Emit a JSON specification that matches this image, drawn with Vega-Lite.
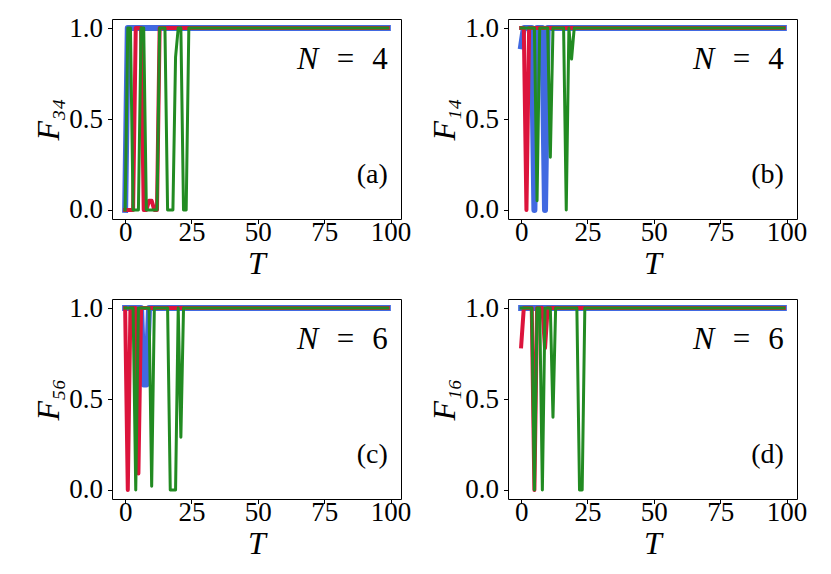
{
  "$schema": "https://vega.github.io/schema/vega-lite/v6.json",
  "background": "white",
  "padding": {"left": 32, "top": 13, "right": 5, "bottom": 5},
  "datasets": {
    "d": [
      {"p":"a","s":"blue","T":0,"F":0},{"p":"a","s":"blue","T":1,"F":1},{"p":"a","s":"blue","T":99,"F":1},
      {"p":"a","s":"red","T":0,"F":0},{"p":"a","s":"red","T":3,"F":0},{"p":"a","s":"red","T":4,"F":1},{"p":"a","s":"red","T":6,"F":1},{"p":"a","s":"red","T":7,"F":0},{"p":"a","s":"red","T":8,"F":0},{"p":"a","s":"red","T":9,"F":0.05},{"p":"a","s":"red","T":10,"F":0.05},{"p":"a","s":"red","T":11,"F":0},{"p":"a","s":"red","T":12,"F":0},{"p":"a","s":"red","T":13,"F":1},{"p":"a","s":"red","T":99,"F":1},
      {"p":"a","s":"green","T":0,"F":0},{"p":"a","s":"green","T":1,"F":1},{"p":"a","s":"green","T":2,"F":1},{"p":"a","s":"green","T":3,"F":0},{"p":"a","s":"green","T":5,"F":0},{"p":"a","s":"green","T":6,"F":1},{"p":"a","s":"green","T":7,"F":1},{"p":"a","s":"green","T":8,"F":0},{"p":"a","s":"green","T":12,"F":0},{"p":"a","s":"green","T":13,"F":1},{"p":"a","s":"green","T":15,"F":1},{"p":"a","s":"green","T":16,"F":0},{"p":"a","s":"green","T":18,"F":0},{"p":"a","s":"green","T":19,"F":0.84},{"p":"a","s":"green","T":20,"F":1},{"p":"a","s":"green","T":21,"F":1},{"p":"a","s":"green","T":22,"F":0},{"p":"a","s":"green","T":23,"F":0},{"p":"a","s":"green","T":24,"F":1},{"p":"a","s":"green","T":99,"F":1},
      {"p":"b","s":"blue","T":0,"F":0.9},{"p":"b","s":"blue","T":1,"F":1},{"p":"b","s":"blue","T":4,"F":1},{"p":"b","s":"blue","T":5,"F":0},{"p":"b","s":"blue","T":6,"F":1},{"p":"b","s":"blue","T":8,"F":1},{"p":"b","s":"blue","T":9,"F":0},{"p":"b","s":"blue","T":10,"F":1},{"p":"b","s":"blue","T":99,"F":1},
      {"p":"b","s":"red","T":0,"F":1},{"p":"b","s":"red","T":1,"F":1},{"p":"b","s":"red","T":2,"F":0},{"p":"b","s":"red","T":3,"F":1},{"p":"b","s":"red","T":99,"F":1},
      {"p":"b","s":"green","T":0,"F":1},{"p":"b","s":"green","T":5,"F":1},{"p":"b","s":"green","T":6,"F":0.05},{"p":"b","s":"green","T":7,"F":1},{"p":"b","s":"green","T":10,"F":1},{"p":"b","s":"green","T":11,"F":0.29},{"p":"b","s":"green","T":12,"F":1},{"p":"b","s":"green","T":16,"F":1},{"p":"b","s":"green","T":17,"F":0},{"p":"b","s":"green","T":18,"F":1},{"p":"b","s":"green","T":19,"F":0.83},{"p":"b","s":"green","T":20,"F":1},{"p":"b","s":"green","T":99,"F":1},
      {"p":"c","s":"blue","T":0,"F":1},{"p":"c","s":"blue","T":6,"F":1},{"p":"c","s":"blue","T":7,"F":0.58},{"p":"c","s":"blue","T":8,"F":0.58},{"p":"c","s":"blue","T":9,"F":1},{"p":"c","s":"blue","T":99,"F":1},
      {"p":"c","s":"red","T":0,"F":1},{"p":"c","s":"red","T":1,"F":0},{"p":"c","s":"red","T":2,"F":1},{"p":"c","s":"red","T":4,"F":1},{"p":"c","s":"red","T":5,"F":0.09},{"p":"c","s":"red","T":6,"F":1},{"p":"c","s":"red","T":99,"F":1},
      {"p":"c","s":"green","T":0,"F":1},{"p":"c","s":"green","T":3,"F":1},{"p":"c","s":"green","T":4,"F":0},{"p":"c","s":"green","T":5,"F":1},{"p":"c","s":"green","T":9,"F":1},{"p":"c","s":"green","T":10,"F":0.02},{"p":"c","s":"green","T":11,"F":1},{"p":"c","s":"green","T":16,"F":1},{"p":"c","s":"green","T":17,"F":0},{"p":"c","s":"green","T":19,"F":0},{"p":"c","s":"green","T":20,"F":1},{"p":"c","s":"green","T":21,"F":0.29},{"p":"c","s":"green","T":22,"F":1},{"p":"c","s":"green","T":99,"F":1},
      {"p":"d","s":"blue","T":0,"F":1},{"p":"d","s":"blue","T":99,"F":1},
      {"p":"d","s":"red","T":0,"F":0.79},{"p":"d","s":"red","T":1,"F":1},{"p":"d","s":"red","T":4,"F":1},{"p":"d","s":"red","T":5,"F":0},{"p":"d","s":"red","T":6,"F":1},{"p":"d","s":"red","T":8,"F":1},{"p":"d","s":"red","T":9,"F":0.78},{"p":"d","s":"red","T":10,"F":1},{"p":"d","s":"red","T":99,"F":1},
      {"p":"d","s":"green","T":0,"F":1},{"p":"d","s":"green","T":4,"F":1},{"p":"d","s":"green","T":5,"F":0},{"p":"d","s":"green","T":6,"F":1},{"p":"d","s":"green","T":7,"F":1},{"p":"d","s":"green","T":8,"F":0},{"p":"d","s":"green","T":9,"F":1},{"p":"d","s":"green","T":11,"F":1},{"p":"d","s":"green","T":12,"F":0.4},{"p":"d","s":"green","T":13,"F":1},{"p":"d","s":"green","T":21,"F":1},{"p":"d","s":"green","T":22,"F":0},{"p":"d","s":"green","T":23,"F":0},{"p":"d","s":"green","T":24,"F":1},{"p":"d","s":"green","T":99,"F":1}
    ],
    "one": [{"k": 1}]
  },
  "columns": 2,
  "spacing": {"row": 80, "column": 107},
  "bounds": "flush",
  "concat": [
    {
      "width": 289, "height": 200,
      "layer": [
        {"data": {"name": "d"}, "transform": [{"filter": "datum.p == 'a' && datum.s == 'blue'"}], "mark": {"type": "line", "color": "#4169E1", "strokeWidth": 6, "strokeCap": "square", "strokeJoin": "round"},
         "encoding": {
          "x": {"field": "T", "type": "quantitative", "scale": {"domain": [-4.95, 103.95], "nice": false, "zero": false}, "axis": {"values": [0, 25, 50, 75, 100], "title": "T"}},
          "y": {"field": "F", "type": "quantitative", "scale": {"domain": [-0.05, 1.05], "nice": false, "zero": false}, "axis": {"values": [0, 0.5, 1], "format": ".1f", "title": "F₃₄"}}}},
        {"data": {"name": "d"}, "transform": [{"filter": "datum.p == 'a' && datum.s == 'red'"}], "mark": {"type": "line", "color": "#DC143C", "strokeWidth": 4, "strokeCap": "square", "strokeJoin": "round"}, "encoding": {"x": {"field": "T", "type": "quantitative"}, "y": {"field": "F", "type": "quantitative"}}},
        {"data": {"name": "d"}, "transform": [{"filter": "datum.p == 'a' && datum.s == 'green'"}], "mark": {"type": "line", "color": "#228B22", "strokeWidth": 3, "strokeCap": "square", "strokeJoin": "round"}, "encoding": {"x": {"field": "T", "type": "quantitative"}, "y": {"field": "F", "type": "quantitative"}}},
        {"data": {"name": "one"}, "mark": {"type": "text", "align": "center", "baseline": "alphabetic", "fontSize": 32, "fontStyle": "italic", "color": "black", "font": "Liberation Serif"}, "encoding": {"text": {"value": "N"}, "x": {"datum": 68.8}, "y": {"datum": 0.777}}},
        {"data": {"name": "one"}, "mark": {"type": "text", "align": "center", "baseline": "alphabetic", "fontSize": 31, "color": "black", "font": "Liberation Serif"}, "encoding": {"text": {"value": "="}, "x": {"datum": 83}, "y": {"datum": 0.777}}},
        {"data": {"name": "one"}, "mark": {"type": "text", "align": "right", "baseline": "alphabetic", "fontSize": 31, "color": "black", "font": "Liberation Serif"}, "encoding": {"text": {"value": "4"}, "x": {"datum": 99}, "y": {"datum": 0.777}}},
        {"data": {"name": "one"}, "mark": {"type": "text", "align": "right", "baseline": "alphabetic", "fontSize": 28, "color": "black", "font": "Liberation Serif"}, "encoding": {"text": {"value": "(a)"}, "x": {"datum": 99}, "y": {"datum": 0.148}}}
      ]
    },
    {
      "width": 289, "height": 200,
      "layer": [
        {"data": {"name": "d"}, "transform": [{"filter": "datum.p == 'b' && datum.s == 'blue'"}], "mark": {"type": "line", "color": "#4169E1", "strokeWidth": 6, "strokeCap": "square", "strokeJoin": "round"},
         "encoding": {
          "x": {"field": "T", "type": "quantitative", "scale": {"domain": [-4.95, 103.95], "nice": false, "zero": false}, "axis": {"values": [0, 25, 50, 75, 100], "title": "T"}},
          "y": {"field": "F", "type": "quantitative", "scale": {"domain": [-0.05, 1.05], "nice": false, "zero": false}, "axis": {"values": [0, 0.5, 1], "format": ".1f", "title": "F₁₄"}}}},
        {"data": {"name": "d"}, "transform": [{"filter": "datum.p == 'b' && datum.s == 'red'"}], "mark": {"type": "line", "color": "#DC143C", "strokeWidth": 4, "strokeCap": "square", "strokeJoin": "round"}, "encoding": {"x": {"field": "T", "type": "quantitative"}, "y": {"field": "F", "type": "quantitative"}}},
        {"data": {"name": "d"}, "transform": [{"filter": "datum.p == 'b' && datum.s == 'green'"}], "mark": {"type": "line", "color": "#228B22", "strokeWidth": 3, "strokeCap": "square", "strokeJoin": "round"}, "encoding": {"x": {"field": "T", "type": "quantitative"}, "y": {"field": "F", "type": "quantitative"}}},
        {"data": {"name": "one"}, "mark": {"type": "text", "align": "center", "baseline": "alphabetic", "fontSize": 32, "fontStyle": "italic", "color": "black", "font": "Liberation Serif"}, "encoding": {"text": {"value": "N"}, "x": {"datum": 68.8}, "y": {"datum": 0.777}}},
        {"data": {"name": "one"}, "mark": {"type": "text", "align": "center", "baseline": "alphabetic", "fontSize": 31, "color": "black", "font": "Liberation Serif"}, "encoding": {"text": {"value": "="}, "x": {"datum": 83}, "y": {"datum": 0.777}}},
        {"data": {"name": "one"}, "mark": {"type": "text", "align": "right", "baseline": "alphabetic", "fontSize": 31, "color": "black", "font": "Liberation Serif"}, "encoding": {"text": {"value": "4"}, "x": {"datum": 99}, "y": {"datum": 0.777}}},
        {"data": {"name": "one"}, "mark": {"type": "text", "align": "right", "baseline": "alphabetic", "fontSize": 28, "color": "black", "font": "Liberation Serif"}, "encoding": {"text": {"value": "(b)"}, "x": {"datum": 99}, "y": {"datum": 0.148}}}
      ]
    },
    {
      "width": 289, "height": 200,
      "layer": [
        {"data": {"name": "d"}, "transform": [{"filter": "datum.p == 'c' && datum.s == 'blue'"}], "mark": {"type": "line", "color": "#4169E1", "strokeWidth": 6, "strokeCap": "square", "strokeJoin": "round"},
         "encoding": {
          "x": {"field": "T", "type": "quantitative", "scale": {"domain": [-4.95, 103.95], "nice": false, "zero": false}, "axis": {"values": [0, 25, 50, 75, 100], "title": "T"}},
          "y": {"field": "F", "type": "quantitative", "scale": {"domain": [-0.05, 1.05], "nice": false, "zero": false}, "axis": {"values": [0, 0.5, 1], "format": ".1f", "title": "F₅₆"}}}},
        {"data": {"name": "d"}, "transform": [{"filter": "datum.p == 'c' && datum.s == 'red'"}], "mark": {"type": "line", "color": "#DC143C", "strokeWidth": 4, "strokeCap": "square", "strokeJoin": "round"}, "encoding": {"x": {"field": "T", "type": "quantitative"}, "y": {"field": "F", "type": "quantitative"}}},
        {"data": {"name": "d"}, "transform": [{"filter": "datum.p == 'c' && datum.s == 'green'"}], "mark": {"type": "line", "color": "#228B22", "strokeWidth": 3, "strokeCap": "square", "strokeJoin": "round"}, "encoding": {"x": {"field": "T", "type": "quantitative"}, "y": {"field": "F", "type": "quantitative"}}},
        {"data": {"name": "one"}, "mark": {"type": "text", "align": "center", "baseline": "alphabetic", "fontSize": 32, "fontStyle": "italic", "color": "black", "font": "Liberation Serif"}, "encoding": {"text": {"value": "N"}, "x": {"datum": 68.8}, "y": {"datum": 0.777}}},
        {"data": {"name": "one"}, "mark": {"type": "text", "align": "center", "baseline": "alphabetic", "fontSize": 31, "color": "black", "font": "Liberation Serif"}, "encoding": {"text": {"value": "="}, "x": {"datum": 83}, "y": {"datum": 0.777}}},
        {"data": {"name": "one"}, "mark": {"type": "text", "align": "right", "baseline": "alphabetic", "fontSize": 31, "color": "black", "font": "Liberation Serif"}, "encoding": {"text": {"value": "6"}, "x": {"datum": 99}, "y": {"datum": 0.777}}},
        {"data": {"name": "one"}, "mark": {"type": "text", "align": "right", "baseline": "alphabetic", "fontSize": 28, "color": "black", "font": "Liberation Serif"}, "encoding": {"text": {"value": "(c)"}, "x": {"datum": 99}, "y": {"datum": 0.148}}}
      ]
    },
    {
      "width": 289, "height": 200,
      "layer": [
        {"data": {"name": "d"}, "transform": [{"filter": "datum.p == 'd' && datum.s == 'blue'"}], "mark": {"type": "line", "color": "#4169E1", "strokeWidth": 6, "strokeCap": "square", "strokeJoin": "round"},
         "encoding": {
          "x": {"field": "T", "type": "quantitative", "scale": {"domain": [-4.95, 103.95], "nice": false, "zero": false}, "axis": {"values": [0, 25, 50, 75, 100], "title": "T"}},
          "y": {"field": "F", "type": "quantitative", "scale": {"domain": [-0.05, 1.05], "nice": false, "zero": false}, "axis": {"values": [0, 0.5, 1], "format": ".1f", "title": "F₁₆"}}}},
        {"data": {"name": "d"}, "transform": [{"filter": "datum.p == 'd' && datum.s == 'red'"}], "mark": {"type": "line", "color": "#DC143C", "strokeWidth": 4, "strokeCap": "square", "strokeJoin": "round"}, "encoding": {"x": {"field": "T", "type": "quantitative"}, "y": {"field": "F", "type": "quantitative"}}},
        {"data": {"name": "d"}, "transform": [{"filter": "datum.p == 'd' && datum.s == 'green'"}], "mark": {"type": "line", "color": "#228B22", "strokeWidth": 3, "strokeCap": "square", "strokeJoin": "round"}, "encoding": {"x": {"field": "T", "type": "quantitative"}, "y": {"field": "F", "type": "quantitative"}}},
        {"data": {"name": "one"}, "mark": {"type": "text", "align": "center", "baseline": "alphabetic", "fontSize": 32, "fontStyle": "italic", "color": "black", "font": "Liberation Serif"}, "encoding": {"text": {"value": "N"}, "x": {"datum": 68.8}, "y": {"datum": 0.777}}},
        {"data": {"name": "one"}, "mark": {"type": "text", "align": "center", "baseline": "alphabetic", "fontSize": 31, "color": "black", "font": "Liberation Serif"}, "encoding": {"text": {"value": "="}, "x": {"datum": 83}, "y": {"datum": 0.777}}},
        {"data": {"name": "one"}, "mark": {"type": "text", "align": "right", "baseline": "alphabetic", "fontSize": 31, "color": "black", "font": "Liberation Serif"}, "encoding": {"text": {"value": "6"}, "x": {"datum": 99}, "y": {"datum": 0.777}}},
        {"data": {"name": "one"}, "mark": {"type": "text", "align": "right", "baseline": "alphabetic", "fontSize": 28, "color": "black", "font": "Liberation Serif"}, "encoding": {"text": {"value": "(d)"}, "x": {"datum": 99}, "y": {"datum": 0.148}}}
      ]
    }
  ],
  "config": {
    "view": {"stroke": "black", "strokeWidth": 1},
    "axis": {"domain": false, "grid": false, "tickColor": "black", "tickSize": 4.5, "tickWidth": 1, "labelFont": "Liberation Serif", "labelFontSize": 27, "labelColor": "black", "labelFlush": false, "labelOverlap": false, "titleFont": "Liberation Serif", "titleFontSize": 32, "titleFontStyle": "italic", "titleFontWeight": "normal", "titleColor": "black", "titlePadding": 3},
    "axisX": {"labelBaseline": "alphabetic", "labelPadding": 17},
    "axisY": {"labelPadding": 5}
  }
}
